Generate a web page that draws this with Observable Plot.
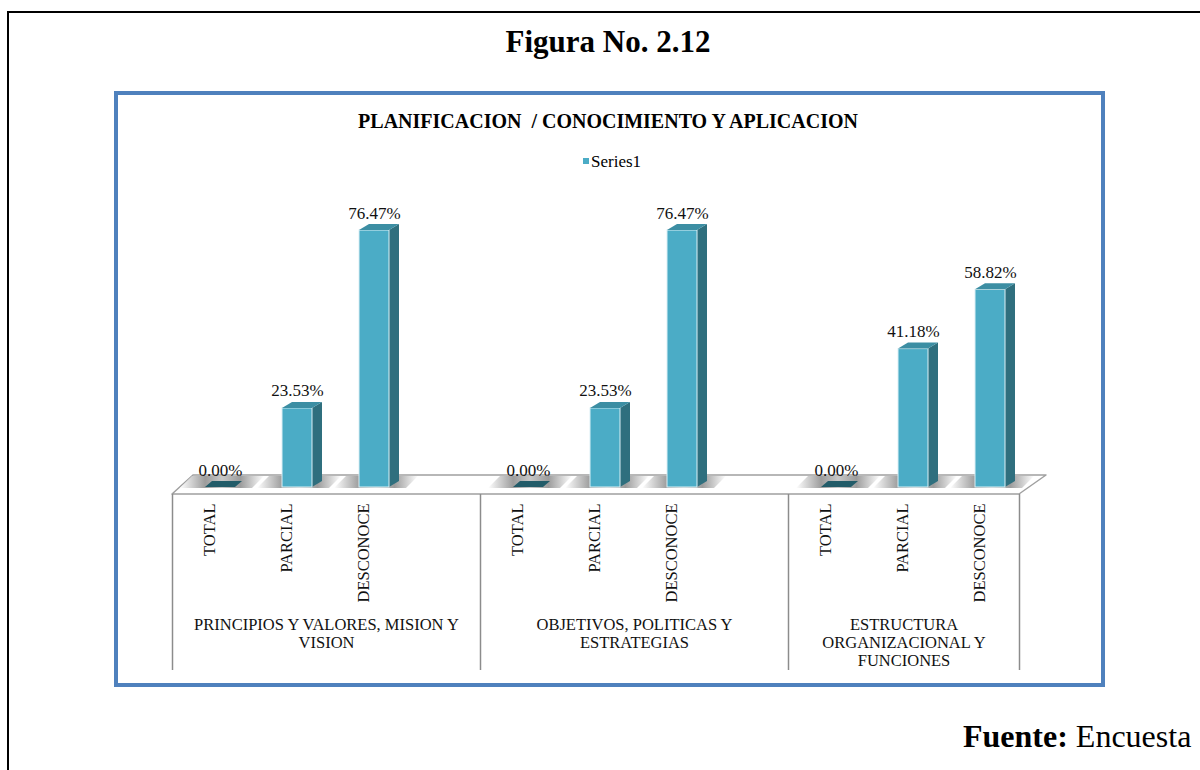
<!DOCTYPE html>
<html>
<head>
<meta charset="utf-8">
<script src="https://cdn.jsdelivr.net/npm/d3@7"></script>
<script src="https://cdn.jsdelivr.net/npm/@observablehq/plot@0.6"></script>
<style>
  html, body { margin: 0; padding: 0; background: #fff; width: 1200px; height: 770px; overflow: hidden; }
  #page { position: relative; width: 1200px; height: 770px; overflow: hidden; font-family: 'Liberation Serif', 'Times New Roman', serif; color: #000; }
  .abs { position: absolute; white-space: nowrap; font-family: 'Liberation Serif', 'Times New Roman', serif; }
  svg text { font-family: 'Liberation Serif', 'Times New Roman', serif !important; }
</style>
</head>
<body>
<svg width="0" height="0" style="position:absolute">
  <defs>
    <linearGradient id="floorShade" x1="0" y1="0" x2="1" y2="0">
      <stop offset="0" stop-color="#ffffff"/>
      <stop offset="0.3" stop-color="#9c9c9c"/>
      <stop offset="0.5" stop-color="#c8c8c8"/>
      <stop offset="0.72" stop-color="#9c9c9c"/>
      <stop offset="1" stop-color="#ffffff"/>
    </linearGradient>
  </defs>
</svg>
<div id="page">
  <div class="abs" style="left:7px;top:11px;width:1400px;height:1000px;border:2px solid #000;"></div>
  <div class="abs" id="figTitle" style="left:608px;top:26px;transform:translateX(-50%);font-size:31px;line-height:31px;font-weight:bold;"></div>
  <div class="abs" style="left:114px;top:91px;width:991px;height:596px;box-sizing:border-box;border:4px solid #4f81bd;"></div>
  <div class="abs" id="chartTitle" style="left:608px;top:111px;transform:translateX(-50%);font-size:20px;line-height:20px;font-weight:bold;"></div>
  <div class="abs" id="legendSwatch" style="left:583px;top:158px;width:6px;height:6px;"></div>
  <div class="abs" id="legendText" style="left:591px;top:153px;font-size:17px;line-height:17px;"></div>
  <div class="abs" id="source" style="left:963px;top:720px;font-size:32px;line-height:32px;"></div>
</div>
<script>
// ---- data ----
const figureTitle = "Figura No. 2.12";
const chartTitle = "PLANIFICACION\u00a0\u00a0/ CONOCIMIENTO Y APLICACION";
const seriesName = "Series1";
const sourceLabel = "Fuente:";
const sourceText = " Encuesta";
const categories = ["TOTAL", "PARCIAL", "DESCONOCE"];
const groups = [
  "PRINCIPIOS Y VALORES, MISION Y\nVISION",
  "OBJETIVOS, POLITICAS Y\nESTRATEGIAS",
  "ESTRUCTURA\nORGANIZACIONAL Y\nFUNCIONES"
];
const principiosValues = [0.00, 23.53, 76.47];
const objetivosValues = [0.00, 23.53, 76.47];
const estructuraValues = [0.00, 41.18, 58.82];
const seriesValues = [principiosValues, objetivosValues, estructuraValues];

// ---- colours ----
const frontColor = "#4bacc6";
const sideColor = "#2f6f7e";
const topColor = "#3c8ea3";
const zeroColor = "#225c69";

// ---- text ----
document.getElementById("figTitle").textContent = figureTitle;
document.getElementById("chartTitle").textContent = chartTitle;
document.getElementById("legendText").textContent = seriesName;
document.getElementById("legendSwatch").style.background = frontColor;
const src = document.getElementById("source");
const b = document.createElement("b"); b.textContent = sourceLabel;
src.appendChild(b); src.appendChild(document.createTextNode(sourceText));

// ---- table ----
const rows = [];
groups.forEach((g, gi) => categories.forEach((c, ci) => {
  rows.push({group: g, gi, category: c, slot: gi * 4 + ci, value: seriesValues[gi][ci], id: `${gi}-${ci}`});
}));

// ---- geometry helpers (pixels -> scale units) ----
const KX = 77;            // px per slot
const KY = 257 / 76.47;   // px per percent
const ux = px => px / KX;
const uy = px => px / KY;
const hw = ux(15), ddx = ux(10), ddy = uy(6), zdx = ux(7);
const lastSlot = d3.max(rows, d => d.slot);

// floor
const F = uy(-7), B = uy(12);
const L = ux(-48), R = lastSlot + ux(29);
const floorPts = [
  {x: L, y1: F, y2: F},
  {x: L + ux(21), y1: F, y2: B},
  {x: R, y1: F, y2: B},
  {x: R + ux(27), y1: B, y2: B}
];

// shading strips on the floor
const stripPts = [];
rows.forEach(d => {
  const a = d.slot + ux(-40), c = d.slot + ux(32), sh = ux(12), yf = uy(-1), yb = uy(11);
  stripPts.push({id: d.id, x: a, y1: yf, y2: yf});
  stripPts.push({id: d.id, x: a + sh, y1: yf, y2: yb});
  stripPts.push({id: d.id, x: c, y1: yf, y2: yb});
  stripPts.push({id: d.id, x: c + sh, y1: yb, y2: yb});
});

const bars = rows.filter(d => d.value > 0);
const zeros = rows.filter(d => d.value === 0);

const sidePts = [];
bars.forEach(d => {
  const xr = d.slot + hw;
  sidePts.push({id: d.id, x: xr, y1: 0, y2: d.value});
  sidePts.push({id: d.id, x: xr + ddx, y1: ddy, y2: d.value + ddy});
});
function topFace(list, dx) {
  const pts = [];
  list.forEach(d => {
    const xl = d.slot - hw, xr = d.slot + hw, v = d.value;
    pts.push({id: d.id, x: xl, y1: v, y2: v});
    pts.push({id: d.id, x: xl + dx, y1: v, y2: v + ddy});
    pts.push({id: d.id, x: xr, y1: v, y2: v + ddy});
    pts.push({id: d.id, x: xr + dx, y1: v + ddy, y2: v + ddy});
  });
  return pts;
}
const topPts = topFace(bars, ddx);
const zeroPts = topFace(zeros, zdx);

// category-axis group boundaries
const bounds = groups.map((g, gi) => gi * 4 + L);
bounds.push(R);
const groupLabels = groups.map((g, gi) => ({text: g, x: (bounds[gi] + bounds[gi + 1]) / 2}));

const font = "'Liberation Serif', 'Times New Roman', serif";
const chart = Plot.plot({
  width: 1200,
  height: 770,
  margin: 0,
  x: {type: "linear", domain: [0, 10], range: [220, 990], axis: null},
  y: {type: "linear", domain: [0, 100], range: [487, 487 - 100 * KY], axis: null},
  style: {background: "none", fontFamily: font, overflow: "visible"},
  marks: [
    Plot.areaY(floorPts, {x: "x", y1: "y1", y2: "y2", fill: "#ffffff", stroke: "#a0a0a0", strokeWidth: 1.5}),
    Plot.areaY(stripPts, {x: "x", y1: "y1", y2: "y2", z: "id", fill: "url(#floorShade)"}),
    Plot.areaY(sidePts, {x: "x", y1: "y1", y2: "y2", z: "id", fill: sideColor}),
    Plot.rect(bars, {x1: d => d.slot - hw, x2: d => d.slot + hw, y1: 0, y2: "value", fill: frontColor, stroke: "#dcf0f5", strokeWidth: 1}),
    Plot.areaY(topPts, {x: "x", y1: "y1", y2: "y2", z: "id", fill: topColor}),
    Plot.areaY(zeroPts, {x: "x", y1: "y1", y2: "y2", z: "id", fill: zeroColor}),
    Plot.text(rows, {x: "slot", y: d => d.value + ddy, text: d => d.value.toFixed(2) + "%", dy: -6, lineAnchor: "bottom", fontSize: 17, fontFamily: font, fill: "#111"}),
    Plot.ruleX(bounds, {x: d => d, y1: F, y2: uy(-183), stroke: "#8c8c8c", strokeWidth: 1.5}),
    Plot.text(rows, {x: d => d.slot + ux(-11), y: uy(-16), text: "category", rotate: -90, textAnchor: "end", fontSize: 16.5, fontFamily: font, fill: "#111"}),
    Plot.text(groupLabels, {x: "x", y: uy(-129.2), text: "text", lineAnchor: "top", lineHeight: 1.1, fontSize: 16.5, fontFamily: font, fill: "#111"})
  ]
});
chart.style.position = "absolute";
chart.style.left = "0px";
chart.style.top = "0px";
document.getElementById("page").appendChild(chart);
</script>
</body>
</html>
